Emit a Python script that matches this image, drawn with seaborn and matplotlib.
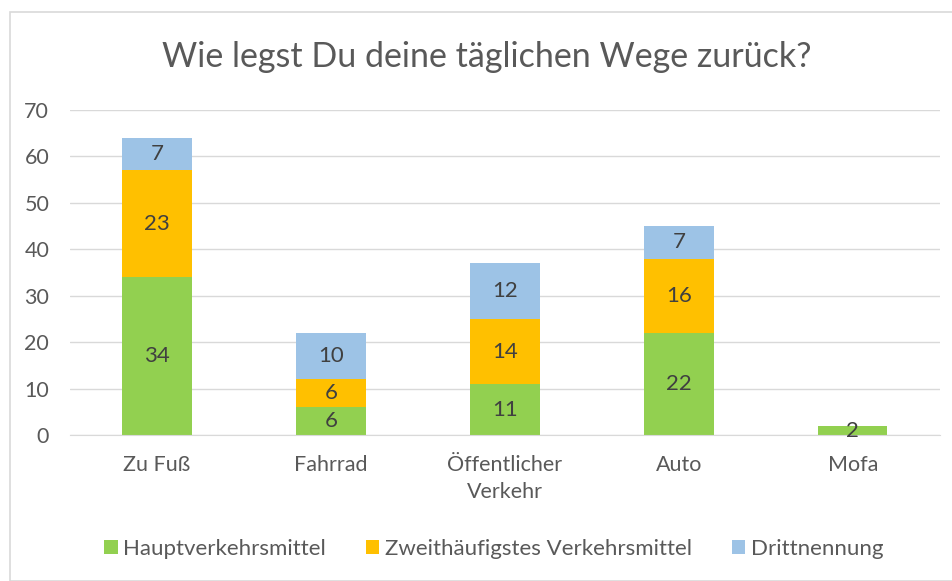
import matplotlib
matplotlib.use("Agg")
import matplotlib.pyplot as plt
import seaborn as sns
import pandas as pd
import numpy as np
from matplotlib.patches import Rectangle, Patch

categories = ["Zu Fuß", "Fahrrad", "Öffentlicher\nVerkehr", "Auto", "Mofa"]
haupt = [34, 6, 11, 22, 2]
zweit = [23, 6, 14, 16, 0]
dritt = [7, 10, 12, 7, 0]
series_names = ["Hauptverkehrsmittel", "Zweithäufigstes Verkehrsmittel", "Drittnennung"]
colors = ["#92D050", "#FFC000", "#9DC3E6"]

sns.set_style("white")
plt.rcParams["font.family"] = ["Lato", "DejaVu Sans"]
txt = "#595959"

fig = plt.figure(figsize=(9.53, 5.81), dpi=100)
ax = fig.add_axes([0.0735, 0.251, 0.9125, 0.560])

bottom = np.zeros(len(categories))
for name, vals, col in zip(series_names, [haupt, zweit, dritt], colors):
    df = pd.DataFrame({"cat": categories, "val": vals})
    sns.barplot(data=df, x="cat", y="val", color=col, bottom=bottom, width=0.40,
                ax=ax, saturation=1, label=name, order=categories, linewidth=0,
                edgecolor="none")
    cont = ax.containers[-1]
    labels = [str(v) if v > 0 else "" for v in vals]
    ax.bar_label(cont, labels=labels, label_type="center", fontsize=16, color="#404040")
    bottom = bottom + np.array(vals)

ax.set_ylim(0, 70)
ax.set_xlim(-0.5, 4.5)
ax.set_yticks(range(0, 71, 10))
ax.yaxis.grid(True, color="#D9D9D9", linewidth=1)
ax.set_axisbelow(True)
for s in ["top", "right", "left"]:
    ax.spines[s].set_visible(False)
ax.spines["bottom"].set_color("#D9D9D9")
ax.set_xlabel("")
ax.set_ylabel("")
ax.tick_params(axis="both", length=0, labelsize=15.5, colors=txt)
ax.tick_params(axis="x", pad=14)
ax.tick_params(axis="y", pad=15)
for lab in ax.get_xticklabels():
    lab.set_linespacing(1.45)

if ax.legend_:
    ax.legend_.remove()
handles = [Patch(facecolor=c, edgecolor="none") for c in colors]
fig.legend(handles, series_names, loc="center", bbox_to_anchor=(0.518, 0.055), ncol=3,
           frameon=False, fontsize=16, handlelength=0.6, handleheight=0.6,
           handletextpad=0.25, columnspacing=1.8, labelcolor=txt)

fig.text(0.511, 0.902, "Wie legst Du deine täglichen Wege zurück?", ha="center", va="center",
         fontsize=24.5, color=txt)

fig.patches.append(Rectangle((10/953, 0), 1.2, 1 - 12/581, transform=fig.transFigure,
                             fill=False, edgecolor="#D9D9D9", linewidth=1.2))

fig.savefig("out.png", dpi=100)
